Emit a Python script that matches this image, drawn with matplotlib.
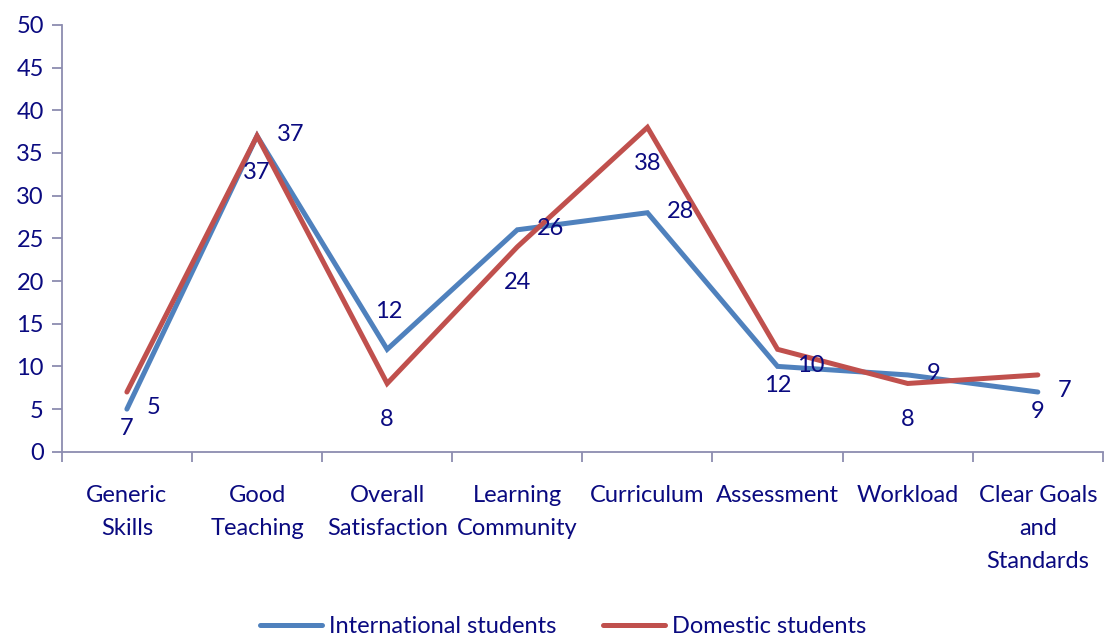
import matplotlib
import matplotlib.pyplot as plt

matplotlib.use("Agg")

categories = ["Generic\nSkills", "Good\nTeaching", "Overall\nSatisfaction", "Learning\nCommunity",
              "Curriculum", "Assessment", "Workload", "Clear Goals\nand\nStandards"]
international = [5, 37, 12, 26, 28, 10, 9, 7]
domestic = [7, 37, 8, 24, 38, 12, 8, 9]

# where each international label sits: "right" or "above"
intl_label_pos = ["right", "right", "above", "right", "right", "right", "right", "right"]

TEXT = "#0A0A80"
AXIS = "#8C8CB0"
BLUE = "#4F81BD"
RED = "#C0504D"
FS = 17

plt.rcParams["font.family"] = ["Lato", "DejaVu Sans"]

fig = plt.figure(figsize=(11.04, 6.39), dpi=100)
ax = fig.add_axes([0.056, 0.293, 0.943, 0.668])

x = list(range(len(categories)))
ax.plot(x, international, color=BLUE, linewidth=3.6, label="International students",
        solid_capstyle="round", solid_joinstyle="miter")
ax.plot(x, domestic, color=RED, linewidth=3.6, label="Domestic students",
        solid_capstyle="round", solid_joinstyle="miter")

for xi, v, pos in zip(x, international, intl_label_pos):
    if pos == "above":
        ax.annotate(str(v), (xi, v), xytext=(1, 27), textcoords="offset points",
                    ha="center", va="center", fontsize=FS, color=TEXT)
    else:
        ax.annotate(str(v), (xi, v), xytext=(14, 1), textcoords="offset points",
                    ha="left", va="center", fontsize=FS, color=TEXT)

for xi, v in zip(x, domestic):
    ax.annotate(str(v), (xi, v), xytext=(0, -26), textcoords="offset points",
                ha="center", va="center", fontsize=FS, color=TEXT)

ax.set_xlim(-0.5, len(categories) - 0.5)
ax.set_ylim(0, 50)
ax.set_yticks(range(0, 51, 5))

# category labels centred, tick marks between categories
ax.set_xticks(x)
ax.set_xticklabels(categories, fontsize=FS, color=TEXT, linespacing=1.7)
ax.tick_params(axis="x", length=0, pad=24)
ax.set_xticks([i - 0.5 for i in range(len(categories) + 1)], minor=True)
ax.tick_params(axis="x", which="minor", length=7, width=1.3, color=AXIS, direction="out")
ax.tick_params(axis="y", labelsize=FS, labelcolor=TEXT, length=7, width=1.3,
               color=AXIS, direction="out", pad=6)

for side in ["top", "right"]:
    ax.spines[side].set_visible(False)
for side in ["left", "bottom"]:
    ax.spines[side].set_color(AXIS)
    ax.spines[side].set_linewidth(1.3)

leg = fig.legend(loc="lower center", bbox_to_anchor=(0.51, -0.03), ncol=2, frameon=False,
                 fontsize=FS, handlelength=2.6, handletextpad=0.3, columnspacing=2.0)
for t in leg.get_texts():
    t.set_color(TEXT)

fig.savefig("out.png", dpi=100)
